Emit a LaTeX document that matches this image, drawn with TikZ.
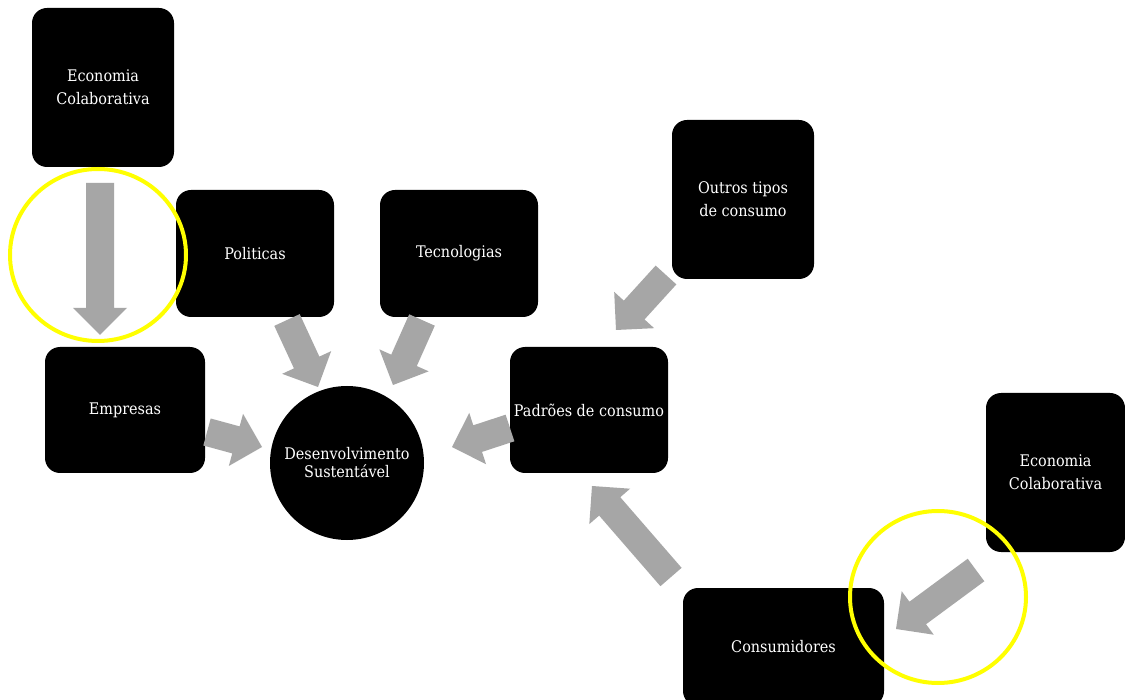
\documentclass[tikz,border=0pt]{standalone}
\usepackage{fontspec}
\setmainfont{DejaVu Serif Condensed}
\usetikzlibrary{calc}
\definecolor{arrowgray}{HTML}{A6A6A6}
\definecolor{markyellow}{HTML}{FFFF00}
\newcommand\fatarrow[2]{%
  \coordinate (fa-b) at ($(#2)!27pt!(#1)$);
  \fill[arrowfill] ($(#1)!14pt!90:(#2)$) -- ($(fa-b)!14pt!90:(#2)$) -- ($(fa-b)!27pt!90:(#2)$) -- (#2) -- ($(fa-b)!27pt!-90:(#2)$) -- ($(fa-b)!14pt!-90:(#2)$) -- ($(#1)!14pt!-90:(#2)$) -- cycle;}
\begin{document}
\begin{tikzpicture}[x=1pt,y=-1pt,
  box/.style={fill=black, rounded corners=15pt, text=white, align=center,
    font=\fontsize{16}{23}\selectfont, inner sep=0pt},
  roundbox/.style={circle, fill=black, text=white, align=center,
    font=\fontsize{16}{18}\selectfont, inner sep=0pt, minimum size=154pt},
  arrowfill/.style={fill=arrowgray},
  highlight/.style={draw=markyellow, line width=4pt}]
\useasboundingbox (0,0) rectangle (1125,700);
\fill[white] (0,0) rectangle (1125,700);

\node[box, minimum width=142pt, minimum height=159pt] (ec1) at (103,87.5) {Economia\\Colaborativa};
\node[box, minimum width=158pt, minimum height=127pt] (pol) at (255,253.5) {Politicas};
\node[box, minimum width=158pt, minimum height=127pt] (tec) at (459,253.5) {Tecnologias};
\node[box, minimum width=160pt, minimum height=126pt] (emp) at (125,410) {Empresas};
\node[roundbox] (ds) at (347,463) {Desenvolvimento\\Sustentável};
\node[box, minimum width=158pt, minimum height=126pt] (pad) at (589,410) {Padrões de consumo};
\node[box, minimum width=142pt, minimum height=159pt] (out) at (743,199.5) {Outros tipos\\de consumo};
\node[box, minimum width=139pt, minimum height=159pt] (ec2) at (1055.5,472.5) {Economia\\Colaborativa};
\node[box, minimum width=201pt, minimum height=118pt] (con) at (783.5,647) {Consumidores};

\coordinate (a1s) at (100,183); \coordinate (a1e) at (100,335);
\coordinate (a2s) at (287,320); \coordinate (a2e) at (318,387);
\coordinate (a3s) at (422,320); \coordinate (a3e) at (393,385);
\coordinate (a4s) at (207,432); \coordinate (a4e) at (262,447);
\coordinate (a5s) at (510,428); \coordinate (a5e) at (452,447);
\coordinate (a6s) at (666,275); \coordinate (a6e) at (616,330);
\coordinate (a7s) at (671,577); \coordinate (a7e) at (592,486);
\coordinate (a8s) at (976,570); \coordinate (a8e) at (896,629);

\fatarrow{a1s}{a1e}
\fatarrow{a2s}{a2e}
\fatarrow{a3s}{a3e}
\fatarrow{a4s}{a4e}
\fatarrow{a5s}{a5e}
\fatarrow{a6s}{a6e}
\fatarrow{a7s}{a7e}
\fatarrow{a8s}{a8e}

\draw[highlight] (98,255) ellipse [x radius=88pt, y radius=86pt];
\draw[highlight] (938,597) ellipse [x radius=88pt, y radius=86pt];
\end{tikzpicture}
\end{document}
